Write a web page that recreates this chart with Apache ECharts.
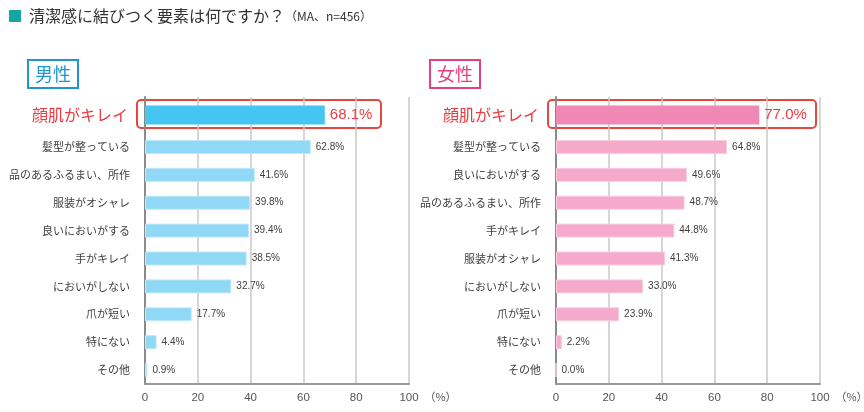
<!DOCTYPE html>
<html><head><meta charset="utf-8">
<script src="https://cdn.jsdelivr.net/npm/echarts@6/dist/echarts.min.js"></script>
<style>html,body{margin:0;padding:0;background:#fff}#c{width:864px;height:412px}</style>
</head><body><div id="c"></div>
<script>
const maleCats = ['顔肌がキレイ','髪型が整っている','品のあるふるまい、所作','服装がオシャレ','良いにおいがする','手がキレイ','においがしない','爪が短い','特にない','その他'];
const maleVals = [68.1,62.8,41.6,39.8,39.4,38.5,32.7,17.7,4.4,0.9];
const femaleCats = ['顔肌がキレイ','髪型が整っている','良いにおいがする','品のあるふるまい、所作','手がキレイ','服装がオシャレ','においがしない','爪が短い','特にない','その他'];
const femaleVals = [77.0,64.8,49.6,48.7,44.8,41.3,33.0,23.9,2.2,0.0];
const xTicks = [0,20,40,60,80,100];
const titleText = '清潔感に結びつく要素は何ですか\uFF1F';
const subText = '\uFF08MA、n=456\uFF09';
const unitText = '\uFF08%\uFF09';

const JP = '"Noto Sans CJK JP", "Noto Sans", sans-serif';
const NUM = '"Liberation Sans", "Noto Sans", sans-serif';
const RED = '#ee3a3f';

const panels = [
  {left:145, right:455, cats:maleCats, vals:maleVals, top:'#45c6f2', rest:'#8fd8f6', border:'#bfe9fa'},
  {left:556, right:44, cats:femaleCats, vals:femaleVals, top:'#f088b6', rest:'#f5aacb', border:'#f9cde0'}
];

const grid=[], xAxis=[], yAxis=[], series=[];
panels.forEach((p,i)=>{
  const gTop = grid.length, gBot = grid.length+1;
  grid.push({left:p.left, right:p.right, top:97, height:36, outerBoundsMode:'none', containLabel:false});
  grid.push({left:p.left, right:p.right, top:133, bottom:28, outerBoundsMode:'none', containLabel:false});
  const split = {show:true, lineStyle:{color:'#c9c9c9', width:1.5}};
  xAxis.push({gridIndex:gTop, type:'value', min:0, max:100, interval:20,
    axisLine:{show:false}, axisTick:{show:false}, axisLabel:{show:false}, splitLine:split});
  xAxis.push({gridIndex:gBot, type:'value', min:0, max:100, interval:20,
    axisLine:{show:true, lineStyle:{color:'#9a9a9a', width:2}}, axisTick:{show:false},
    axisLabel:{show:true, color:'#555', fontSize:11.5, fontFamily:NUM, margin:8,
      formatter:v=>xTicks.includes(v)?String(v):''},
    splitLine:split,
    name:unitText, nameLocation:'end', nameGap:-7,
    nameTextStyle:{color:'#555', fontSize:11, fontFamily:JP, verticalAlign:'top', padding:[7,0,0,0]}});
  const yLine = {show:true, lineStyle:{color:'#8a8a8a', width:2}};
  yAxis.push({gridIndex:gTop, type:'category', inverse:true, data:p.cats.slice(0,1),
    axisLine:yLine, axisTick:{show:false},
    axisLabel:{color:RED, fontSize:16, fontFamily:JP, margin:17}});
  yAxis.push({gridIndex:gBot, type:'category', inverse:true, data:p.cats.slice(1),
    axisLine:yLine, axisTick:{show:false},
    axisLabel:{color:'#404040', fontSize:11, fontFamily:JP, margin:15}});
  series.push({type:'bar', xAxisIndex:gTop, yAxisIndex:gTop, data:p.vals.slice(0,1), barWidth:19,
    itemStyle:{color:p.top}, silent:true,
    label:{show:true, position:'right', distance:5, color:RED, fontSize:15, fontFamily:NUM,
      formatter:d=>d.value.toFixed(1)+'%'}});
  series.push({type:'bar', xAxisIndex:gBot, yAxisIndex:gBot, data:p.vals.slice(1), barWidth:14,
    itemStyle:{color:p.rest, borderColor:p.border, borderWidth:1}, silent:true,
    label:{show:true, position:'right', distance:5, color:'#404040', fontSize:10, fontFamily:NUM,
      formatter:d=>d.value.toFixed(1)+'%'}});
});

const graphic = [
  {type:'rect', shape:{x:9, y:10, width:12, height:12}, style:{fill:'#17a69c'}},
  {type:'text', x:29, y:16, style:{text:'{a|'+titleText+'}{b|'+subText+'}', verticalAlign:'middle',
    rich:{a:{fontSize:16, fontFamily:JP, fill:'#333'}, b:{fontSize:12, fontFamily:JP, fill:'#333'}}}},
  {type:'rect', shape:{x:28, y:60, width:50, height:28}, style:{fill:'none', stroke:'#1e96d4', lineWidth:2}},
  {type:'text', x:53, y:74, style:{text:'男性', fontSize:18, fontFamily:JP, fill:'#1e96d4', align:'center', verticalAlign:'middle'}},
  {type:'rect', shape:{x:430, y:60, width:50, height:28}, style:{fill:'none', stroke:'#e8407e', lineWidth:2}},
  {type:'text', x:455, y:74, style:{text:'女性', fontSize:18, fontFamily:JP, fill:'#e8407e', align:'center', verticalAlign:'middle'}},
  {type:'rect', shape:{x:137, y:100, width:244, height:28, r:4}, style:{fill:'none', stroke:'#e8453c', lineWidth:2}},
  {type:'rect', shape:{x:548, y:100, width:268, height:28, r:4}, style:{fill:'none', stroke:'#e8453c', lineWidth:2}}
];

const chart = echarts.init(document.getElementById('c'), null, {renderer:'canvas'});
chart.setOption({animation:false, backgroundColor:'#fff', grid, xAxis, yAxis, series, graphic});
</script></body></html>
